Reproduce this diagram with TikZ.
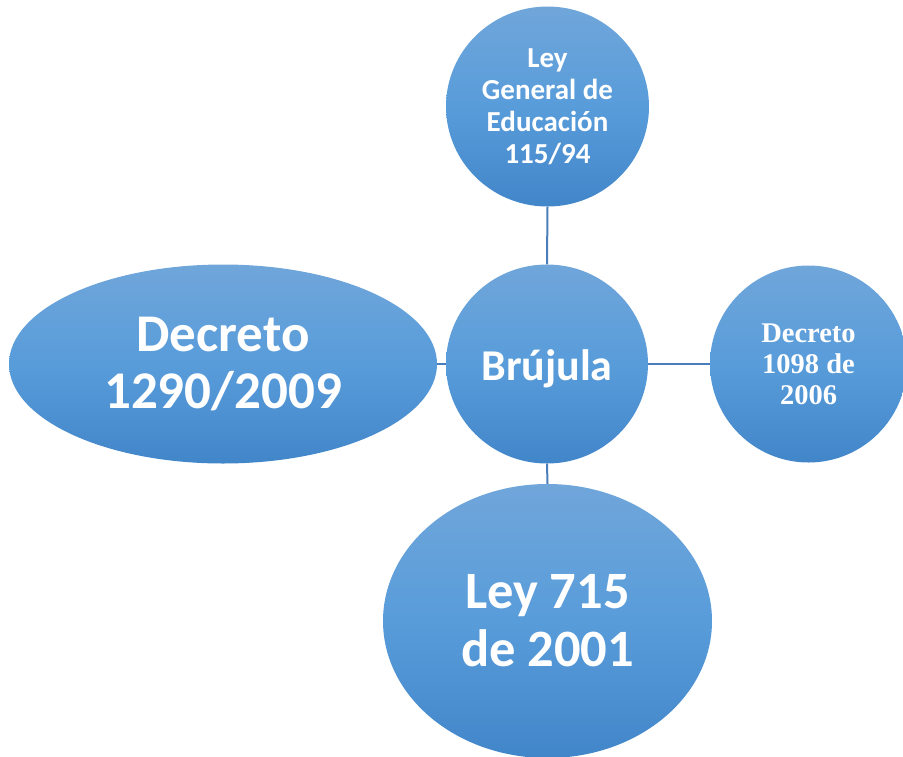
\documentclass[tikz,border=0pt]{standalone}
\usepackage{fontspec}
\setmainfont{Carlito}
\newfontfamily\tnr{Liberation Serif}
\usetikzlibrary{shapes.geometric}
\definecolor{topblue}{RGB}{112,166,218}
\definecolor{midblue}{RGB}{88,156,218}
\definecolor{botblue}{RGB}{66,134,202}
\definecolor{linkblue}{RGB}{74,126,187}
\tikzset{
  bubble/.style={ellipse, inner sep=0pt, text=white, align=center,
    top color=topblue, bottom color=botblue, middle color=midblue,
    font=\bfseries},
  link/.style={draw=linkblue, line width=2pt}
}
\begin{document}
\begin{tikzpicture}[x=1pt,y=-1pt]
\useasboundingbox (0,0) rectangle (903,756);
\node[bubble, minimum width=203pt, minimum height=200pt,
  font=\bfseries\fontsize{29}{32}\selectfont] (top) at (547.5,106.5)
  {Ley\\General de\\Educación\\115/94};
\node[bubble, minimum width=202pt, minimum height=199pt,
  text height=38pt, text depth=6pt,
  font=\bfseries\fontsize{44}{48}\selectfont] (center) at (547,364)
  {Brújula};
\node[bubble, minimum width=197pt, minimum height=197pt,
  font=\tnr\bfseries\fontsize{28.5}{31}\selectfont] (right) at (808.5,364)
  {Decreto\\1098 de\\2006};
\node[bubble, minimum width=428pt, minimum height=199pt,
  font=\bfseries\fontsize{53}{57}\selectfont] (left) at (223,364)
  {Decreto\\1290/2009};
\node[bubble, minimum width=329pt, minimum height=274pt,
  font=\bfseries\fontsize{52.5}{58}\selectfont] (bottom) at (547.5,621)
  {Ley 715\\de 2001};
\draw[link] (top.south) -- (center.north);
\draw[link] (center.south) -- (bottom.north);
\draw[link] (left.east) -- (center.west);
\draw[link] (center.east) -- (right.west);
\end{tikzpicture}
\end{document}
